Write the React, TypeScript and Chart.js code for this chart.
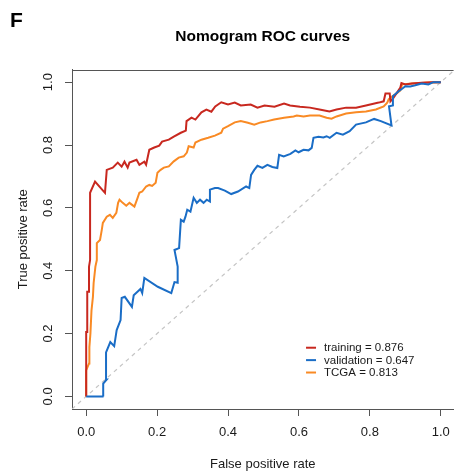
import React, { useEffect, useRef } from 'react';
import { Chart, registerables } from 'chart.js';
Chart.register(...registerables);

const FONT = '"Liberation Sans", Arial, sans-serif';

const TICK_VALUES = [0, 0.2, 0.4, 0.6, 0.8, 1.0];
const TITLE = 'Nomogram ROC curves';
const X_TITLE = 'False positive rate';
const Y_TITLE = 'True positive rate';
const PANEL = 'F';

const SERIES_LABELS = ['training = 0.876', 'validation = 0.647', 'TCGA = 0.813'];
const SERIES_COLORS = ['#C8281F', '#1A6DC6', '#F98A24'];

const TRAIN_FPR = [0, 0, 0.003, 0.003, 0.008, 0.008, 0.011, 0.011, 0.025, 0.053, 0.058, 0.075, 0.089, 0.1, 0.108, 0.117, 0.122, 0.142, 0.15, 0.164, 0.169, 0.178, 0.192, 0.206, 0.214, 0.233, 0.247, 0.267, 0.281, 0.283, 0.297, 0.308, 0.325, 0.339, 0.353, 0.364, 0.381, 0.4, 0.419, 0.436, 0.464, 0.483, 0.503, 0.531, 0.558, 0.575, 0.603, 0.631, 0.658, 0.686, 0.706, 0.733, 0.761, 0.789, 0.825, 0.839, 0.844, 0.856, 0.858, 0.867, 0.886, 0.889, 0.9, 0.919, 0.946, 0.974, 1];
const TRAIN_TPR = [0, 0.205, 0.205, 0.333, 0.333, 0.413, 0.434, 0.648, 0.684, 0.648, 0.721, 0.728, 0.744, 0.731, 0.747, 0.728, 0.744, 0.753, 0.737, 0.747, 0.737, 0.785, 0.792, 0.798, 0.811, 0.817, 0.827, 0.839, 0.846, 0.876, 0.887, 0.881, 0.904, 0.913, 0.906, 0.923, 0.936, 0.929, 0.935, 0.926, 0.929, 0.919, 0.926, 0.922, 0.932, 0.926, 0.922, 0.919, 0.913, 0.907, 0.913, 0.919, 0.919, 0.926, 0.935, 0.939, 0.964, 0.964, 0.939, 0.951, 0.983, 0.997, 0.993, 0.996, 0.998, 1, 1];

const VALID_FPR = [0, 0.049, 0.048, 0.058, 0.056, 0.068, 0.079, 0.086, 0.097, 0.1, 0.109, 0.129, 0.134, 0.153, 0.158, 0.164, 0.202, 0.24, 0.249, 0.258, 0.258, 0.249, 0.262, 0.267, 0.275, 0.28, 0.285, 0.294, 0.303, 0.312, 0.321, 0.331, 0.34, 0.349, 0.349, 0.363, 0.372, 0.391, 0.409, 0.428, 0.451, 0.46, 0.465, 0.474, 0.483, 0.497, 0.511, 0.525, 0.539, 0.544, 0.557, 0.576, 0.59, 0.599, 0.613, 0.627, 0.636, 0.641, 0.655, 0.669, 0.678, 0.687, 0.706, 0.724, 0.743, 0.761, 0.789, 0.812, 0.831, 0.861, 0.854, 0.865, 0.865, 0.881, 0.891, 0.9, 0.914, 0.928, 0.946, 0.965, 0.979, 1];
const VALID_TPR = [0, 0, 0.041, 0.054, 0.14, 0.173, 0.16, 0.211, 0.243, 0.313, 0.317, 0.285, 0.322, 0.342, 0.329, 0.377, 0.349, 0.329, 0.364, 0.362, 0.413, 0.466, 0.472, 0.562, 0.556, 0.572, 0.594, 0.588, 0.632, 0.616, 0.626, 0.616, 0.626, 0.62, 0.658, 0.663, 0.663, 0.655, 0.644, 0.652, 0.668, 0.663, 0.705, 0.721, 0.734, 0.727, 0.737, 0.73, 0.727, 0.769, 0.764, 0.772, 0.783, 0.777, 0.785, 0.783, 0.791, 0.823, 0.826, 0.824, 0.828, 0.823, 0.839, 0.833, 0.844, 0.865, 0.872, 0.883, 0.876, 0.862, 0.923, 0.926, 0.955, 0.971, 0.979, 0.987, 0.986, 0.99, 0.996, 0.993, 1, 1];

const TCGA_FPR = [0, 0, 0.008, 0.009, 0.012, 0.015, 0.019, 0.021, 0.026, 0.03, 0.03, 0.039, 0.044, 0.047, 0.058, 0.067, 0.075, 0.085, 0.09, 0.094, 0.103, 0.113, 0.122, 0.136, 0.145, 0.15, 0.158, 0.169, 0.178, 0.186, 0.196, 0.201, 0.21, 0.219, 0.233, 0.247, 0.261, 0.275, 0.284, 0.289, 0.303, 0.308, 0.325, 0.344, 0.363, 0.381, 0.386, 0.4, 0.419, 0.436, 0.456, 0.474, 0.492, 0.511, 0.53, 0.558, 0.585, 0.594, 0.613, 0.631, 0.658, 0.678, 0.692, 0.706, 0.733, 0.761, 0.789, 0.817, 0.839, 0.849, 0.853, 0.863, 0.872, 0.886, 0.891, 0.919, 0.956, 1];
const TCGA_TPR = [0, 0.083, 0.105, 0.157, 0.201, 0.274, 0.317, 0.361, 0.413, 0.434, 0.488, 0.498, 0.53, 0.552, 0.572, 0.578, 0.568, 0.584, 0.616, 0.626, 0.616, 0.607, 0.616, 0.604, 0.632, 0.648, 0.652, 0.668, 0.673, 0.67, 0.68, 0.712, 0.721, 0.728, 0.732, 0.748, 0.76, 0.764, 0.776, 0.796, 0.792, 0.808, 0.817, 0.823, 0.83, 0.839, 0.852, 0.86, 0.872, 0.876, 0.871, 0.865, 0.872, 0.876, 0.881, 0.887, 0.891, 0.894, 0.891, 0.894, 0.894, 0.887, 0.884, 0.891, 0.9, 0.904, 0.907, 0.913, 0.923, 0.935, 0.945, 0.955, 0.961, 0.974, 0.993, 0.996, 0.998, 1];

const DIAG_X = [-0.04, 1.04];
const DIAG_Y = [-0.04, 1.04];

const zip = (xs: number[], ys: number[]) => xs.map((x, i) => ({ x, y: ys[i] }));

const decorPlugin = {
  id: 'decor',
  afterDraw(chart: any) {
    const { ctx, chartArea: a, scales } = chart;
    const xs = scales.x;
    const ys = scales.y;
    ctx.save();
    // top border of the box
    ctx.strokeStyle = '#555';
    ctx.lineWidth = 1;
    ctx.beginPath();
    const ty = Math.round(a.top) + 0.5;
    ctx.moveTo(a.left, ty);
    ctx.lineTo(a.right, ty);
    ctx.stroke();
    // panel letter
    ctx.fillStyle = '#000';
    ctx.font = `bold 21px ${FONT}`;
    ctx.textBaseline = 'alphabetic';
    ctx.textAlign = 'left';
    ctx.fillText(PANEL, 10, 27);
    // legend
    const lx = xs.getPixelForValue(0.62);
    const ly0 = ys.getPixelForValue(0.155);
    ctx.font = `11.5px ${FONT}`;
    ctx.textBaseline = 'middle';
    chart.data.datasets.forEach((ds: any, i: number) => {
      if (!ds.legendText) return;
      const yy = ly0 + (ds.legendIndex) * 12.4;
      ctx.strokeStyle = ds.borderColor;
      ctx.lineWidth = 2;
      ctx.beginPath();
      ctx.moveTo(lx, yy);
      ctx.lineTo(lx + 10, yy);
      ctx.stroke();
      ctx.fillStyle = '#1a1a1a';
      ctx.fillText(ds.legendText, lx + 18, yy + 0.5);
    });
    ctx.restore();
  },
};

export default function App() {
  const ref = useRef<HTMLCanvasElement | null>(null);
  useEffect(() => {
    if (!ref.current) return;
    const series = [
      { fpr: TRAIN_FPR, tpr: TRAIN_TPR },
      { fpr: VALID_FPR, tpr: VALID_TPR },
      { fpr: TCGA_FPR, tpr: TCGA_TPR },
    ];
    const drawOrder = [1, 0, 2];
    const datasets: any[] = series.map((s, i) => ({
      label: SERIES_LABELS[i],
      legendText: SERIES_LABELS[i],
      legendIndex: i,
      data: zip(s.fpr, s.tpr),
      borderColor: SERIES_COLORS[i],
      backgroundColor: SERIES_COLORS[i],
      borderWidth: 2,
      pointRadius: 0,
      tension: 0,
      fill: false,
      order: drawOrder[i],
    }));
    datasets.push({
      label: 'diag',
      data: zip(DIAG_X, DIAG_Y),
      borderColor: '#C4C4C4',
      borderWidth: 1.2,
      borderDash: [4, 4],
      pointRadius: 0,
      fill: false,
      order: 10,
    });
    const tickCb = (v: any) => Number(v).toFixed(1);
    const setTicks = (scale: any) => {
      scale.ticks = TICK_VALUES.map((v) => ({ value: v }));
    };
    const chart = new Chart(ref.current, {
      type: 'line',
      data: { datasets },
      plugins: [decorPlugin],
      options: {
        animation: false,
        responsive: false,
        maintainAspectRatio: false,
        layout: { padding: 0 },
        font: { family: FONT },
        plugins: {
          legend: { display: false },
          tooltip: { enabled: false },
          title: {
            display: true,
            text: TITLE,
            fullSize: false,
            color: '#000',
            font: { family: FONT, size: 15.5, weight: 'bold' },
            padding: { top: 27, bottom: 24 },
          },
        },
        scales: {
          x: {
            type: 'linear',
            min: -0.04,
            max: 1.0361,
            afterBuildTicks: setTicks,
            afterFit: (s: any) => { s.height = 67; },
            grid: { drawOnChartArea: false, drawTicks: true, tickLength: 7, color: '#555', tickColor: '#555' },
            border: { display: true, color: '#555', width: 1 },
            ticks: { callback: tickCb, padding: 9, color: '#1a1a1a', font: { family: FONT, size: 13 }, autoSkip: false, maxRotation: 0 },
            title: { display: true, text: X_TITLE, color: '#1a1a1a', font: { family: FONT, size: 13 }, padding: { top: 0, bottom: 4 } },
          },
          y: {
            type: 'linear',
            min: -0.04,
            max: 1.04,
            afterBuildTicks: setTicks,
            afterFit: (s: any) => { s.width = 72; },
            grid: { drawOnChartArea: false, drawTicks: true, tickLength: 7, color: '#555', tickColor: '#555' },
            border: { display: true, color: '#555', width: 1 },
            ticks: { callback: tickCb, padding: 8, color: '#1a1a1a', font: { family: FONT, size: 13 }, autoSkip: false, minRotation: 90, maxRotation: 90, crossAlign: 'center' },
            title: { display: true, text: Y_TITLE, color: '#1a1a1a', font: { family: FONT, size: 13 }, padding: { top: 16, bottom: 0 } },
          },
        },
      } as any,
    });
    return () => chart.destroy();
  }, []);
  return (
    <div style={{ position: 'fixed', left: 0, top: 0, width: 459, height: 476, background: '#fff' }}>
      <canvas ref={ref} width={459} height={476} style={{ display: 'block' }} />
    </div>
  );
}
